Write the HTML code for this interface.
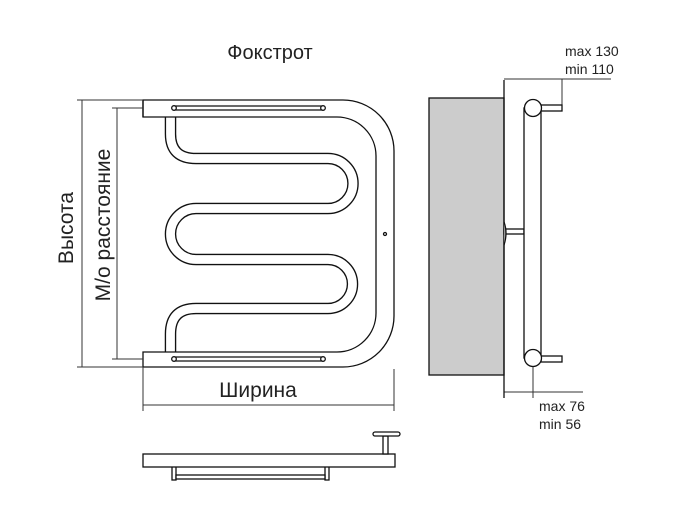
<!DOCTYPE html><html><head><meta charset="utf-8"><style>body{margin:0;background:#fff}svg{display:block}text{font-family:"Liberation Sans",sans-serif;fill:#222}</style></head><body>
<svg width="685" height="528" viewBox="0 0 685 528" xmlns="http://www.w3.org/2000/svg">
<g fill="none" stroke="#111" stroke-width="1.3">
<path d="M170.5,116 V134 Q170.5,158.5 196,158.5 H328 A25,25 0 0 1 328,208.5 H196 A25.5,25.5 0 0 0 196,259.5 H328 A24.5,24.5 0 0 1 328,308.5 H196 Q170.5,308.5 170.5,334 V353" stroke="#111" stroke-width="11.5"/>
<path d="M170.5,116 V134 Q170.5,158.5 196,158.5 H328 A25,25 0 0 1 328,208.5 H196 A25.5,25.5 0 0 0 196,259.5 H328 A24.5,24.5 0 0 1 328,308.5 H196 Q170.5,308.5 170.5,334 V353" stroke="#fff" stroke-width="8.8"/>
<path d="M143,100 H343 A51,51 0 0 1 394,151 V316 A51,51 0 0 1 343,367 H143 V352 H337 A39,39 0 0 0 376,313 V156 A39,39 0 0 0 337,117 H143 Z" fill="#fff"/>
<line x1="143" y1="117" x2="143" y2="100"/>
<rect x="173" y="106" width="151" height="4" rx="2"/>
<circle cx="174" cy="108" r="2.3" fill="#fff"/><circle cx="323" cy="108" r="2.3" fill="#fff"/>
<rect x="173" y="357" width="151" height="4" rx="2"/>
<circle cx="174" cy="359" r="2.3" fill="#fff"/><circle cx="323" cy="359" r="2.3" fill="#fff"/>
<circle cx="385" cy="234" r="1.5"/>
</g>
<g stroke="#333" stroke-width="1" fill="none">
<line x1="82" y1="100" x2="82" y2="367"/><line x1="77" y1="100" x2="143" y2="100"/><line x1="77" y1="367" x2="143" y2="367"/>
<line x1="117" y1="108" x2="117" y2="359"/><line x1="112" y1="108" x2="143" y2="108"/><line x1="112" y1="359" x2="143" y2="359"/>
<line x1="143" y1="405" x2="394" y2="405"/><line x1="143" y1="367" x2="143" y2="411"/><line x1="394" y1="369" x2="394" y2="411"/>
<line x1="504" y1="79" x2="611" y2="79"/><line x1="562" y1="79" x2="562" y2="111"/>
<line x1="504" y1="392" x2="583" y2="392"/><line x1="533" y1="365" x2="533" y2="398"/>
</g>
<text x="270" y="59" font-size="20" text-anchor="middle">Фокстрот</text>
<text transform="translate(73,228) rotate(-90)" font-size="21" text-anchor="middle">Высота</text>
<text transform="translate(110,225) rotate(-90)" font-size="21" text-anchor="middle">М/о расстояние</text>
<text x="258" y="397" font-size="21" text-anchor="middle">Ширина</text>
<text x="565" y="56" font-size="14">max 130</text>
<text x="565" y="74" font-size="14">min 110</text>
<text x="539" y="411" font-size="14">max 76</text>
<text x="539" y="429" font-size="14">min 56</text>
<g stroke="#111" stroke-width="1.3">
<rect x="429" y="98" width="75" height="277" fill="#cccccc"/>
<line x1="504" y1="80" x2="504" y2="398"/>
<rect x="504" y="229" width="20" height="5" fill="#fff"/>
<path d="M504,222 Q508,233 504,245" fill="#999"/>
<rect x="524" y="108" width="17" height="250" fill="#fff"/>
<rect x="541" y="105" width="21" height="6" fill="#fff"/>
<rect x="541" y="356" width="21" height="6" fill="#fff"/>
<circle cx="533" cy="108" r="8.5" fill="#fff"/>
<circle cx="533" cy="358" r="8.5" fill="#fff"/>
</g>
<g stroke="#111" stroke-width="1.3" fill="#fff">
<rect x="172" y="464" width="4" height="16"/><rect x="325" y="464" width="4" height="16"/>
<rect x="176" y="475" width="149" height="4"/>
<rect x="143" y="454" width="252" height="13"/>
<rect x="383" y="436" width="5" height="18"/>
<rect x="373" y="432" width="27" height="4" rx="2"/>
</g>
</svg>
</body></html>
